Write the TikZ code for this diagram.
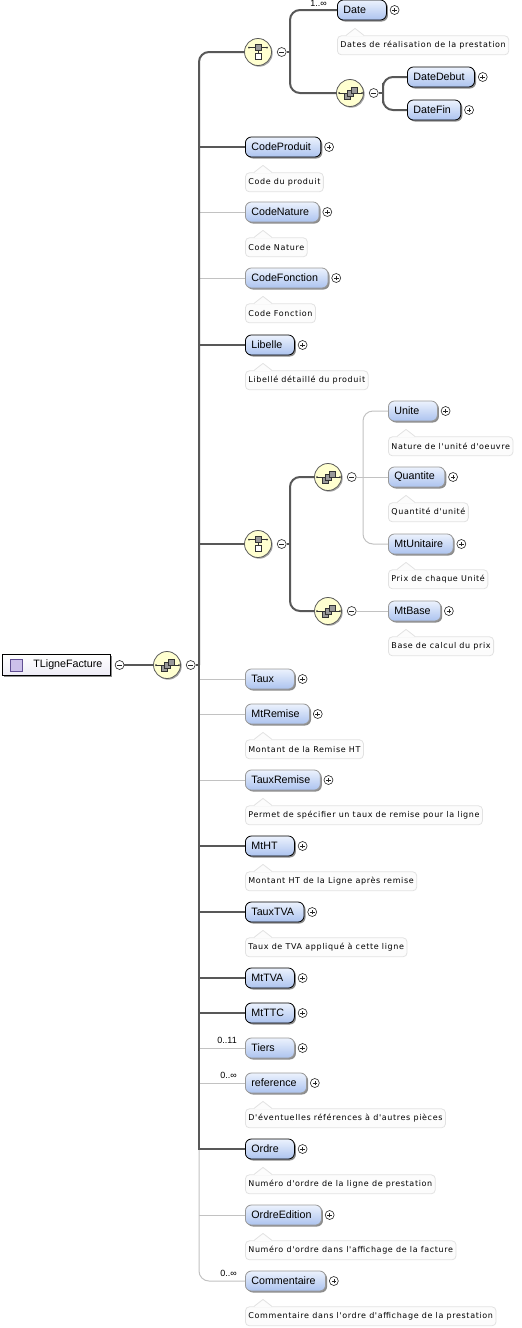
\documentclass[tikz,border=0pt]{standalone}
\usepackage{fontspec}
\setmainfont{Liberation Sans}
\newfontfamily\annfont[LetterSpace=8]{DejaVu Sans}
\usepackage{tikz}
\usetikzlibrary{positioning}
\usetikzlibrary{shadows}
\definecolor{elemtop}{RGB}{236,242,253}
\definecolor{elembot}{RGB}{172,195,239}
\definecolor{compfill}{RGB}{255,255,208}
\definecolor{linedark}{RGB}{88,88,88}
\definecolor{linelight}{RGB}{194,194,194}
\definecolor{annotline}{RGB}{226,226,226}
\definecolor{annotfill}{RGB}{252,252,252}
\definecolor{rootbot}{RGB}{238,236,246}
\definecolor{typefill}{RGB}{204,192,234}
\definecolor{typeline}{RGB}{96,78,146}
\newsavebox{\elemtext}
\newlength{\elemw}
\tikzstyle{elem} = [anchor=west, draw=black, line width=0.8pt, rounded corners=6pt, top color=elemtop, bottom color=elembot, minimum height=20pt, inner xsep=6pt, inner ysep=0pt, font=\fontsize{10.7}{12}\selectfont, execute at begin node={\begin{lrbox}{\elemtext}}, execute at end node={\end{lrbox}\setlength{\elemw}{\wd\elemtext}\ifdim\elemw<33pt\setlength{\elemw}{33pt}\fi\hbox to \elemw{\usebox{\elemtext}\hfil}\kern4pt}, drop shadow={shadow xshift=1.5pt, shadow yshift=-1.5pt, opacity=1, fill=black!45}]
\tikzstyle{optelem} = [elem, draw=black!40]
\tikzstyle{rootbox} = [anchor=west, draw=black, line width=0.8pt, top color=white, bottom color=rootbot, minimum height=21pt, inner xsep=6pt, inner ysep=0pt, font=\fontsize{10.7}{12}\selectfont, drop shadow={shadow xshift=1.5pt, shadow yshift=-1.5pt, opacity=1, fill=black!45}]
\tikzstyle{typeicon} = [rectangle, draw=typeline, fill=typefill, line width=0.8pt, minimum size=12pt, inner sep=0pt]
\tikzstyle{annot} = [draw=annotline, fill=annotfill, line width=0.8pt, rounded corners=4pt, minimum height=19pt, inner xsep=3pt, inner ysep=0pt, font=\annfont\fontsize{8}{9}\selectfont]
\tikzstyle{comp} = [circle, draw=black!65, line width=0.8pt, fill=compfill, minimum size=27pt, inner sep=0pt, drop shadow={shadow xshift=1.2pt, shadow yshift=-1.2pt, opacity=1, fill=black!35}]
\tikzstyle{plus} = [circle, draw=black!85, fill=white, line width=0.6pt, minimum size=9pt, inner sep=0pt, path picture={\draw[line width=0.6pt] ([xshift=-2.3pt]path picture bounding box.center) -- ([xshift=2.3pt]path picture bounding box.center) ([yshift=-2.3pt]path picture bounding box.center) -- ([yshift=2.3pt]path picture bounding box.center);}]
\tikzstyle{minus} = [circle, draw=black!85, fill=white, line width=0.6pt, minimum size=9pt, inner sep=0pt, path picture={\draw[line width=0.6pt] ([xshift=-2.3pt]path picture bounding box.center) -- ([xshift=2.3pt]path picture bounding box.center);}]
\tikzstyle{must} = [draw=linedark, line width=2pt]
\tikzstyle{may} = [draw=linelight, line width=1pt]
\tikzstyle{mult} = [inner sep=0pt, font=\fontsize{9}{11}\selectfont]
\tikzset{
  seqicon/.pic={
    \draw[black!80, line width=0.6pt] (-11pt,0pt) -- (12pt,0pt);
    \fill[black!80] (-11pt,0pt) circle (1pt) (12pt,0pt) circle (1pt);
    \draw[black!80, fill=black!40, line width=0.5pt] (-6pt,-6.6pt) rectangle (0pt,-0.6pt);
    \draw[black!80, fill=black!40, line width=0.5pt] (-2.3pt,-3.3pt) rectangle (3.7pt,2.7pt);
    \draw[black!80, fill=black!40, line width=0.5pt] (1pt,-0.7pt) rectangle (7pt,5.3pt);
  },
  choiceicon/.pic={
    \draw[black!80, line width=0.6pt] (-9pt,4.3pt) -- (9pt,4.3pt);
    \fill[black!80] (-9pt,4.3pt) circle (1pt) (9pt,4.3pt) circle (1pt);
    \draw[black!80, line width=0.6pt] (0pt,1.3pt) -- (0pt,-1.3pt);
    \draw[black!80, fill=black!40, line width=0.5pt] (-3pt,1.3pt) rectangle (3pt,7.3pt);
    \draw[black!80, fill=white, line width=0.5pt] (-3pt,-7.3pt) rectangle (3pt,-1.3pt);
  }
}
\newcommand{\notch}[1]{%
  \fill[annotfill] ([xshift=9pt,yshift=-0.6pt]#1.north west) -- ([xshift=18pt,yshift=7pt]#1.north west) -- ([xshift=27pt,yshift=-0.6pt]#1.north west) -- cycle;
  \draw[annotline, line width=0.8pt] ([xshift=9pt]#1.north west) -- ([xshift=18pt,yshift=7pt]#1.north west) -- ([xshift=27pt]#1.north west);}

\begin{document}
\begin{tikzpicture}[x=1pt, y=-1pt]
\useasboundingbox (0,0) rectangle (522,1328);

% root type and its sequence
\node (root) [rootbox] at (2,665) {\hspace*{25pt}TLigneFacture\hspace*{2pt}};
\node (rootI) [typeicon, right=8pt of root.west] {};
\node (rootM) [minus, right=4pt of root] {};
\node (rootseq) [comp] at (167,665) {};
\pic at (rootseq) {seqicon};
\node (rootseqM) [minus, right=5pt of rootseq] {};
\coordinate (hub) at (199,665);

% choice: Date or DateDebut/DateFin
\node (choiceA) [comp] at (258,52) {};
\pic at (choiceA) {choiceicon};
\node (choiceAM) [minus, right=5pt of choiceA] {};
\coordinate (hubA) at (290,52);
\node (date) [elem] at (337,10) {Date};
\node (dateP) [plus, right=3pt of date] {};
\node (dateN) [mult, anchor=base east] at ([xshift=-10pt,yshift=4pt]date.west) {1..∞};
\node (dateA) [annot, below=15pt of date.south west, anchor=north west] {Dates de réalisation de la prestation};
\notch{dateA}
\node (seqA) [comp] at (350,93) {};
\pic at (seqA) {seqicon};
\node (seqAM) [minus, right=5pt of seqA] {};
\coordinate (hubB) at (383,93);
\node (datedebut) [elem] at (407,77) {DateDebut};
\node (datedebutP) [plus, right=3pt of datedebut] {};
\node (datefin) [elem] at (407,110) {DateFin};
\node (datefinP) [plus, right=3pt of datefin] {};

% codes and libelle
\node (codeproduit) [elem] at (245,147) {CodeProduit};
\node (codeproduitP) [plus, right=3pt of codeproduit] {};
\node (codeproduitA) [annot, below=15pt of codeproduit.south west, anchor=north west] {Code du produit};
\notch{codeproduitA}
\node (codenature) [optelem] at (245,212) {CodeNature};
\node (codenatureP) [plus, right=3pt of codenature] {};
\node (codenatureA) [annot, below=15pt of codenature.south west, anchor=north west] {Code Nature};
\notch{codenatureA}
\node (codefonction) [optelem] at (245,278) {CodeFonction};
\node (codefonctionP) [plus, right=3pt of codefonction] {};
\node (codefonctionA) [annot, below=15pt of codefonction.south west, anchor=north west] {Code Fonction};
\notch{codefonctionA}
\node (libelle) [elem] at (245,345) {Libelle};
\node (libelleP) [plus, right=3pt of libelle] {};
\node (libelleA) [annot, below=15pt of libelle.south west, anchor=north west] {Libellé détaillé du produit};
\notch{libelleA}

% choice: quantities or base
\node (choiceB) [comp] at (258,544) {};
\pic at (choiceB) {choiceicon};
\node (choiceBM) [minus, right=5pt of choiceB] {};
\coordinate (hubC) at (290,544);
\node (seqB) [comp] at (328,477) {};
\pic at (seqB) {seqicon};
\node (seqBM) [minus, right=5pt of seqB] {};
\coordinate (hubD) at (363,477);
\node (seqC) [comp] at (328,611) {};
\pic at (seqC) {seqicon};
\node (seqCM) [minus, right=5pt of seqC] {};
\node (unite) [optelem] at (388,411) {Unite};
\node (uniteP) [plus, right=3pt of unite] {};
\node (uniteA) [annot, below=15pt of unite.south west, anchor=north west] {Nature de l'unité d'oeuvre};
\notch{uniteA}
\node (quantite) [optelem] at (388,477) {Quantite};
\node (quantiteP) [plus, right=3pt of quantite] {};
\node (quantiteA) [annot, below=15pt of quantite.south west, anchor=north west] {Quantité d'unité};
\notch{quantiteA}
\node (mtunitaire) [optelem] at (388,544) {MtUnitaire};
\node (mtunitaireP) [plus, right=3pt of mtunitaire] {};
\node (mtunitaireA) [annot, below=15pt of mtunitaire.south west, anchor=north west] {Prix de chaque Unité};
\notch{mtunitaireA}
\node (mtbase) [optelem] at (388,611) {MtBase};
\node (mtbaseP) [plus, right=3pt of mtbase] {};
\node (mtbaseA) [annot, below=15pt of mtbase.south west, anchor=north west] {Base de calcul du prix};
\notch{mtbaseA}

% amounts and rates
\node (taux) [optelem] at (245,679) {Taux};
\node (tauxP) [plus, right=3pt of taux] {};
\node (mtremise) [optelem] at (245,714) {MtRemise};
\node (mtremiseP) [plus, right=3pt of mtremise] {};
\node (mtremiseA) [annot, below=15pt of mtremise.south west, anchor=north west] {Montant de la Remise HT};
\notch{mtremiseA}
\node (tauxremise) [optelem] at (245,780) {TauxRemise};
\node (tauxremiseP) [plus, right=3pt of tauxremise] {};
\node (tauxremiseA) [annot, below=15pt of tauxremise.south west, anchor=north west] {Permet de spécifier un taux de remise pour la ligne};
\notch{tauxremiseA}
\node (mtht) [elem] at (245,846) {MtHT};
\node (mthtP) [plus, right=3pt of mtht] {};
\node (mthtA) [annot, below=15pt of mtht.south west, anchor=north west] {Montant HT de la Ligne après remise};
\notch{mthtA}
\node (tauxtva) [elem] at (245,912) {TauxTVA};
\node (tauxtvaP) [plus, right=3pt of tauxtva] {};
\node (tauxtvaA) [annot, below=15pt of tauxtva.south west, anchor=north west] {Taux de TVA appliqué à cette ligne};
\notch{tauxtvaA}
\node (mttva) [elem] at (245,978) {MtTVA};
\node (mttvaP) [plus, right=3pt of mttva] {};
\node (mtttc) [elem] at (245,1013) {MtTTC};
\node (mtttcP) [plus, right=3pt of mtttc] {};

% tiers, references, order, comments
\node (tiers) [optelem] at (245,1048) {Tiers};
\node (tiersP) [plus, right=3pt of tiers] {};
\node (tiersN) [mult, anchor=base east] at ([xshift=-8pt,yshift=5pt]tiers.west) {0..11};
\node (reference) [optelem] at (245,1083) {reference};
\node (referenceP) [plus, right=3pt of reference] {};
\node (referenceN) [mult, anchor=base east] at ([xshift=-8pt,yshift=5pt]reference.west) {0..∞};
\node (referenceA) [annot, below=15pt of reference.south west, anchor=north west] {D'éventuelles références à d'autres pièces};
\notch{referenceA}
\node (ordre) [elem] at (245,1149) {Ordre};
\node (ordreP) [plus, right=3pt of ordre] {};
\node (ordreA) [annot, below=15pt of ordre.south west, anchor=north west] {Numéro d'ordre de la ligne de prestation};
\notch{ordreA}
\node (ordreedition) [optelem] at (245,1215) {OrdreEdition};
\node (ordreeditionP) [plus, right=3pt of ordreedition] {};
\node (ordreeditionA) [annot, below=15pt of ordreedition.south west, anchor=north west] {Numéro d'ordre dans l'affichage de la facture};
\notch{ordreeditionA}
\node (commentaire) [optelem] at (245,1281) {Commentaire};
\node (commentaireP) [plus, right=3pt of commentaire] {};
\node (commentaireN) [mult, anchor=base east] at ([xshift=-8pt,yshift=5pt]commentaire.west) {0..∞};
\node (commentaireA) [annot, below=15pt of commentaire.south west, anchor=north west] {Commentaire dans l'ordre d'affichage de la prestation};
\notch{commentaireA}

% optional branches
\draw [may] (codenature.west -| hub) -- (codenature.west);
\draw [may] (codefonction.west -| hub) -- (codefonction.west);
\draw [may] (taux.west -| hub) -- (taux.west);
\draw [may] (mtremise.west -| hub) -- (mtremise.west);
\draw [may] (tauxremise.west -| hub) -- (tauxremise.west);
\draw [may] (tiers.west -| hub) -- (tiers.west);
\draw [may] (reference.west -| hub) -- (reference.west);
\draw [may] (ordreedition.west -| hub) -- (ordreedition.west);
\draw [may, rounded corners=10pt] (ordre.west -| hub) |- (commentaire.west);
\draw [may, rounded corners=10pt] (unite.west) -| (hubD) |- (mtunitaire.west);
\draw [may] (seqBM) -- (quantite.west);
\draw [may] (seqCM) -- (mtbase.west);

% mandatory branches
\draw [must] (rootM) -- (rootseq);
\draw [must] (rootseqM) -- (hub);
\draw [must, rounded corners=10pt] (choiceA.west) -| (hub);
\draw [must] (hub) -- (ordre.west -| hub) -- (ordre.west);
\draw [must] (codeproduit.west -| hub) -- (codeproduit.west);
\draw [must] (libelle.west -| hub) -- (libelle.west);
\draw [must] (choiceB.west -| hub) -- (choiceB.west);
\draw [must] (mtht.west -| hub) -- (mtht.west);
\draw [must] (tauxtva.west -| hub) -- (tauxtva.west);
\draw [must] (mttva.west -| hub) -- (mttva.west);
\draw [must] (mtttc.west -| hub) -- (mtttc.west);
\draw [must] (choiceAM) -- (hubA);
\draw [must, rounded corners=10pt] (date.west) -| (hubA) |- (seqA.west);
\draw [must] (seqAM) -- (hubB);
\draw [must, rounded corners=10pt] (datedebut.west) -| (hubB) |- (datefin.west);
\draw [must] (choiceBM) -- (hubC);
\draw [must, rounded corners=10pt] (seqB.west) -| (hubC) |- (seqC.west);

\end{tikzpicture}
\end{document}
